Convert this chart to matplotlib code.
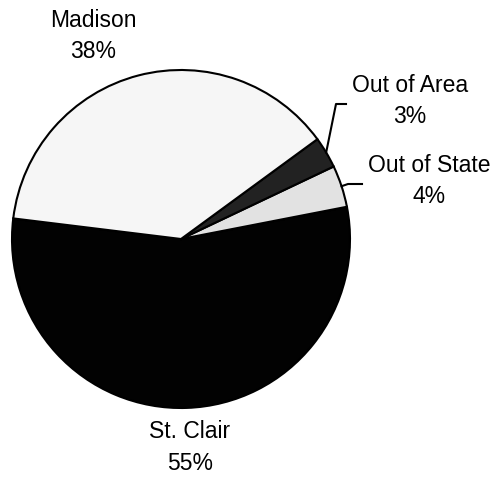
import numpy as np
import matplotlib.pyplot as plt

plt.rcParams['font.family'] = ['Liberation Sans', 'DejaVu Sans']

# données
labels = ["St. Clair", "Out of State", "Out of Area", "Madison"]
values = [55, 4, 3, 38]
colors = ["#020202", "#e2e2e2", "#222222", "#f6f6f6"]

# figure en coordonnées pixel (y vers le haut)
fig = plt.figure(figsize=(4.96, 4.79), dpi=100)
ax = fig.add_axes([0, 0, 1, 1])

cx, cy, r = 181, 240, 169
wedges, _ = ax.pie(values, colors=colors, startangle=173, counterclock=True,
                   center=(cx, cy), radius=r, frame=True,
                   wedgeprops=dict(edgecolor='black', linewidth=1.5))
ax.set_xlim(0, 496)
ax.set_ylim(0, 479)
ax.set_aspect('equal')
ax.axis('off')

# étiquettes
pos = {"Madison": (93, 459), "Out of Area": (410, 394),
       "Out of State": (429, 314), "St. Clair": (190, 47)}
for lab, v in zip(labels, values):
    x, y = pos[lab]
    ax.text(x, y, lab, ha='center', va='center', fontsize=16.5)
    ax.text(x, y - 31, "%d%%" % v, ha='center', va='center', fontsize=16.5)

# traits de rappel
ends = {"Out of Area": (336, 375, 346), "Out of State": (348, 295, 362)}
for w, lab in zip(wedges, labels):
    if lab in ends:
        a = np.deg2rad((w.theta1 + w.theta2) / 2)
        x0, y0 = cx + r * np.cos(a), cy + r * np.sin(a)
        x1, y1, x2 = ends[lab]
        ax.plot([x0, x1, x2], [y0, y1, y1], color='black', lw=1.5)

fig.savefig("out.png", dpi=100)
